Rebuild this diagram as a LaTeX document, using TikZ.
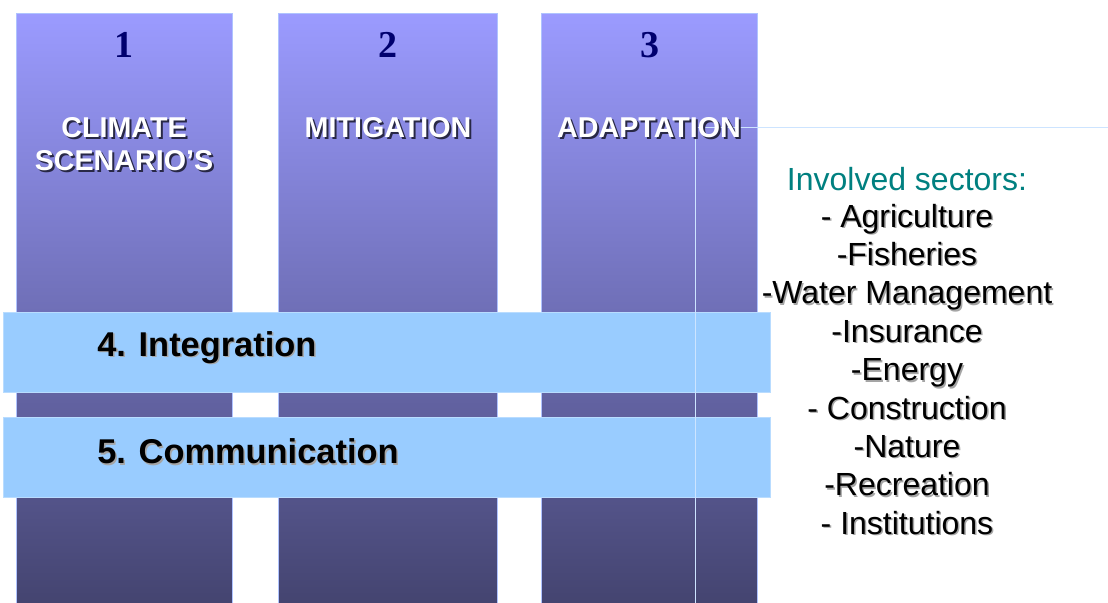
\documentclass[tikz,border=0pt]{standalone}
\usepackage{fontspec}
\setmainfont{Liberation Sans}
\newfontfamily\serifbold{Liberation Serif}
\begin{document}
\begin{tikzpicture}[x=0.75pt,y=-0.75pt,
  column/.style={draw=colborder,line width=0.75pt,top color=coltop,middle color=colmid,bottom color=colbot},
  bar/.style={draw=barborder,line width=0.75pt,fill=barfill},
  guide/.style={draw=guideline,line width=0.75pt},
  num/.style={font=\serifbold\bfseries\fontsize{28.5}{30}\selectfont,text=navy,inner sep=0pt},
  coltext/.style={font=\bfseries\fontsize{21.5}{24}\selectfont,text=white,inner sep=0pt},
  colshadow/.style={font=\bfseries\fontsize{21.5}{24}\selectfont,text=shadowdark,inner sep=0pt},
  bartext/.style={font=\bfseries\fontsize{25.8}{28}\selectfont,text=black,inner sep=0pt,anchor=west},
  bartextsh/.style={font=\bfseries\fontsize{25.8}{28}\selectfont,text=shadowgray,inner sep=0pt,anchor=west},
  item/.style={font=\fontsize{24}{27}\selectfont,text=black,inner sep=0pt,anchor=base},
  itemsh/.style={font=\fontsize{24}{27}\selectfont,text=shadowgray,inner sep=0pt,anchor=base},
  head/.style={font=\fontsize{24}{27}\selectfont,text=teal,inner sep=0pt,anchor=base}
]
\definecolor{coltop}{RGB}{155,155,255}
\definecolor{colmid}{RGB}{120,120,205}
\definecolor{colbot}{RGB}{68,68,112}
\definecolor{colborder}{RGB}{175,195,255}
\definecolor{barfill}{RGB}{153,204,255}
\definecolor{barborder}{RGB}{185,220,255}
\definecolor{guideline}{RGB}{205,228,255}
\definecolor{navy}{RGB}{0,0,110}
\definecolor{teal}{RGB}{0,128,128}
\definecolor{shadowdark}{RGB}{40,40,70}
\definecolor{shadowgray}{RGB}{165,165,165}
\useasboundingbox[fill=white] (0,0) rectangle (1108,603);
% columns
\path[column] (16,13) rectangle (232,603);
\path[column] (278,13) rectangle (497,603);
\path[column] (541,13) rectangle (757,603);
% bars
\path[bar] (3,312) rectangle (770,392);
\path[bar] (3,417) rectangle (770,497);
% guide lines
\coordinate (gc) at (695,127);
\coordinate (gr) at (1108,127);
\coordinate (gb) at (695,603);
\draw[guide] (gb) -- (gc) -- (gr);
% numbers
\node[num] (n1) at (124,45) {1};
\node[num] (n2) at (388,45) {2};
\node[num] (n3) at (650,45) {3};
% column labels
\node[colshadow] (c1as) at (126,130) {CLIMATE};
\node[coltext] (c1a) at (124,128) {CLIMATE};
\node[colshadow] (c1bs) at (126,163) {SCENARIO’S};
\node[coltext] (c1b) at (124,161) {SCENARIO’S};
\node[colshadow] (c2s) at (390,130) {MITIGATION};
\node[coltext] (c2) at (388,128) {MITIGATION};
\node[colshadow] (c3s) at (651,130) {ADAPTATION};
\node[coltext] (c3) at (649,128) {ADAPTATION};
% bar labels
\node[bartextsh] (b4s) at (98.5,349) {4. Integration};
\node[bartext] (b4) at (97,347.5) {4. Integration};
\node[bartextsh] (b5s) at (98.5,453) {5. Communication};
\node[bartext] (b5) at (97,451.5) {5. Communication};
% sectors
\node[head] (hd) at (907,190) {Involved sectors:};
\foreach \t [count=\i] in {- Agriculture,-Fisheries,-Water Management,-Insurance,-Energy,- Construction,-Nature,-Recreation,- Institutions}{
  \pgfmathsetmacro{\yy}{227+38.4*(\i-1)}
  \node[itemsh] (s\i s) at (908.5,\yy+1.5) {\t};
  \node[item] (s\i) at (907,\yy) {\t};
}
\end{tikzpicture}
\end{document}
